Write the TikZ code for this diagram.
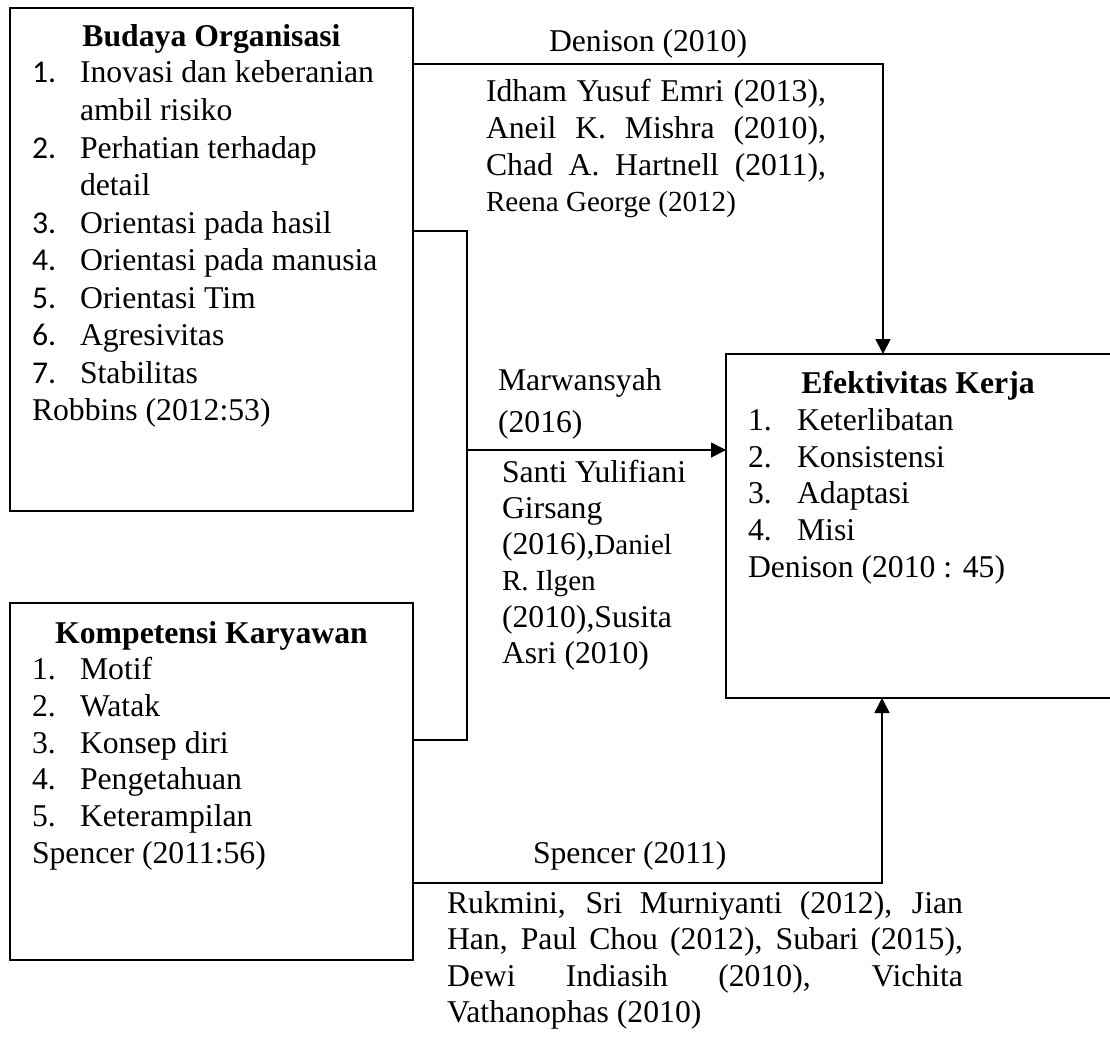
\documentclass[tikz,border=0pt]{standalone}
\usepackage{fontspec}
\setmainfont{Liberation Serif}
\newfontfamily\numfont{Carlito}
\usetikzlibrary{arrows.meta}
\newcommand{\bigsz}{\fontsize{31.7}{37}\selectfont}
\newcommand{\smsz}{\fontsize{29.1}{35}\selectfont}
\newcommand{\putline}[4]{\node[tx] (#1) at (#2,#3) {#4};}
\newcommand{\putctr}[4]{\node[tx,anchor=base] (#1) at (#2,#3) {\bfseries #4};}
\begin{document}
\begin{tikzpicture}[x=1pt,y=-1pt,
  box/.style={draw, line width=1.6pt, inner sep=0pt, outer sep=0pt},
  tx/.style={anchor=base west, inner sep=0pt, outer sep=0pt, font=\bigsz},
  conn/.style={line width=1.5pt},
  arr/.style={line width=1.7pt, -{Triangle[length=15pt,width=15pt]}}]
\useasboundingbox (0,0) rectangle (1110,1038);
% boxes
\node[box, minimum width=403pt, minimum height=503pt] (b1) at (211.5,259.5) {};
\node[box, minimum width=403pt, minimum height=357pt] (b2) at (211.5,781.5) {};
\node[box, minimum width=385pt, minimum height=344pt] (b3) at (918.5,526) {};
% box 1 text
\putctr{t1}{211.5}{47}{Budaya Organisasi}
\putline{n11}{32}{83}{\numfont 1.}
\putline{i11}{80}{83}{Inovasi dan keberanian}
\putline{i11b}{80}{120.5}{ambil risiko}
\putline{n12}{32}{158}{\numfont 2.}
\putline{i12}{80}{158}{Perhatian terhadap}
\putline{i12b}{80}{195.5}{detail}
\putline{n13}{32}{233}{\numfont 3.}
\putline{i13}{80}{233}{Orientasi pada hasil}
\putline{n14}{32}{270.5}{\numfont 4.}
\putline{i14}{80}{270.5}{Orientasi pada manusia}
\putline{n15}{32}{308}{\numfont 5.}
\putline{i15}{80}{308}{Orientasi Tim}
\putline{n16}{32}{345.5}{\numfont 6.}
\putline{i16}{80}{345.5}{Agresivitas}
\putline{n17}{32}{383}{\numfont 7.}
\putline{i17}{80}{383}{Stabilitas}
\putline{r1}{32}{420.5}{Robbins (2012:53)}
% box 2 text
\putctr{t2}{211.5}{643}{Kompetensi Karyawan}
\putline{n21}{32}{679.7}{1.}
\putline{i21}{80}{679.7}{Motif}
\putline{n22}{32}{716.4}{2.}
\putline{i22}{80}{716.4}{Watak}
\putline{n23}{32}{753.1}{3.}
\putline{i23}{80}{753.1}{Konsep diri}
\putline{n24}{32}{789.8}{4.}
\putline{i24}{80}{789.8}{Pengetahuan}
\putline{n25}{32}{826.5}{5.}
\putline{i25}{80}{826.5}{Keterampilan}
\putline{r2}{32}{863.2}{Spencer (2011:56)}
% box 3 text
\putctr{t3}{918}{393}{Efektivitas Kerja}
\putline{n31}{748}{430}{1.}
\putline{i31}{797}{430}{Keterlibatan}
\putline{n32}{748}{467}{2.}
\putline{i32}{797}{467}{Konsistensi}
\putline{n33}{748}{503.5}{3.}
\putline{i33}{797}{503.5}{Adaptasi}
\putline{n34}{748}{540}{4.}
\putline{i34}{797}{540}{Misi}
\putline{r3}{748}{577}{Denison (2010 : 45)}
% connectors
\coordinate (dtop) at (883,64);
\draw[arr] (b1.east |- dtop) -- (dtop) -- (b3.north -| dtop);
\coordinate (brt) at (467,231);
\coordinate (brb) at (467,740);
\coordinate (brm) at (467,450);
\draw[conn] (b1.east |- brt) -- (brt) -- (brb) -- (b2.east |- brb);
\draw[arr] (brm) -- (b3.west |- brm);
\coordinate (sp) at (882,883);
\draw[arr] (b2.east |- sp) -- (sp) -- (b3.south -| sp);
% connector labels
\putline{l1}{549}{52}{Denison (2010)}
\putline{l1a}{486}{102}{\makebox[340pt][s]{Idham Yusuf Emri (2013),}}
\putline{l1b}{486}{138.5}{\makebox[340pt][s]{Aneil K. Mishra (2010),}}
\putline{l1c}{486}{175}{\makebox[340pt][s]{Chad A. Hartnell (2011),}}
\putline{l1d}{486}{211}{\smsz Reena George (2012)}
\putline{l2}{498}{390}{Marwansyah}
\putline{l2y}{498}{432}{(2016)}
\putline{l2a}{502}{482}{Santi Yulifiani}
\putline{l2b}{502}{518}{Girsang}
\putline{l2c}{502}{554}{(2016),{\smsz Daniel}}
\putline{l2d}{502}{590}{\smsz R. Ilgen}
\putline{l2e}{502}{627}{(2010),Susita}
\putline{l2f}{502}{663}{Asri (2010)}
\putline{l3}{533}{863}{Spencer (2011)}
\putline{l3a}{447}{913}{\makebox[516pt][s]{Rukmini, Sri Murniyanti (2012), Jian}}
\putline{l3b}{447}{949.5}{\makebox[516pt][s]{Han, Paul Chou (2012), Subari (2015),}}
\putline{l3c}{447}{986}{\makebox[516pt][s]{Dewi Indiasih (2010), Vichita}}
\putline{l3d}{447}{1022}{Vathanophas (2010)}
\end{tikzpicture}
\end{document}
